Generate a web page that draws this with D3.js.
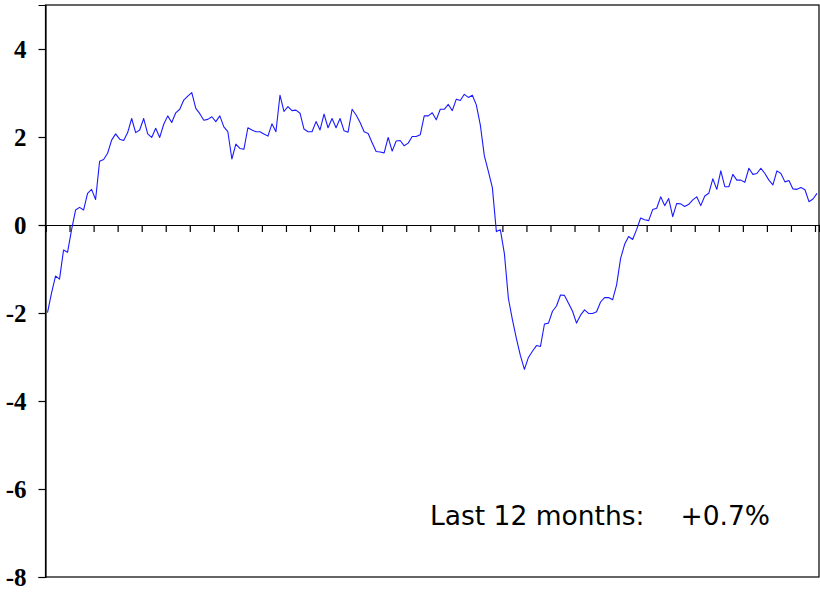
<!DOCTYPE html>
<html><head><meta charset="utf-8">
<script src="https://cdn.jsdelivr.net/npm/d3@7"></script>
<style>html,body{margin:0;padding:0;background:#fff;}svg{display:block;}</style>
</head><body>
<svg id="chart" width="820" height="592"></svg>
<script>
const values = [
-1.99,-1.55,-1.16,-1.23,-0.57,-0.62,-0.11,0.34,0.40,0.34,
0.72,0.81,0.58,1.45,1.49,1.63,1.93,2.07,1.95,1.92,
2.10,2.42,2.10,2.16,2.42,2.07,1.99,2.20,1.99,2.29,
2.48,2.33,2.55,2.63,2.84,2.93,3.01,2.65,2.53,2.38,
2.40,2.46,2.35,2.48,2.23,2.12,1.50,1.84,1.74,1.72,
2.21,2.16,2.12,2.12,2.07,2.02,2.30,2.12,2.95,2.58,
2.69,2.60,2.61,2.54,2.18,2.12,2.12,2.35,2.16,2.52,
2.21,2.42,2.21,2.42,2.14,2.11,2.63,2.50,2.33,2.12,
2.08,1.87,1.67,1.66,1.64,1.99,1.68,1.91,1.92,1.80,
1.86,2.01,2.01,2.05,2.48,2.48,2.55,2.39,2.63,2.63,
2.74,2.60,2.86,2.83,2.97,2.90,2.95,2.73,2.27,1.57,
1.22,0.85,-0.15,-0.11,-0.65,-1.67,-2.15,-2.58,-2.97,-3.28,
-3.01,-2.87,-2.74,-2.76,-2.25,-2.23,-1.96,-1.84,-1.59,-1.60,
-1.78,-1.96,-2.23,-2.05,-1.93,-2.01,-2.01,-1.97,-1.75,-1.65,
-1.65,-1.70,-1.36,-0.76,-0.44,-0.26,-0.33,-0.10,0.16,0.12,
0.10,0.35,0.38,0.64,0.44,0.60,0.19,0.49,0.48,0.42,
0.47,0.57,0.64,0.44,0.66,0.72,1.05,0.81,1.23,0.87,
0.87,1.15,1.02,1.02,0.97,1.29,1.15,1.17,1.29,1.17,
1.02,0.91,1.23,1.17,0.98,1.01,0.82,0.81,0.85,0.80,
0.53,0.59,0.72
];
const periods = values.map((_, i) => i);
const yTickValues = [4, 2, 0, -2, -4, -6, -8];
const tickEvery = 6;
const noteLabel = "Last 12 months:";
const noteValue = "+0.7%";

(function () {
const svg = d3.select("#chart");
const mLeft = 45.5, mRight = 819, mTop = 5, mBottom = 577;

const x = d3.scaleLinear().domain([-0.5, periods.length - 0.5]).range([mLeft, mRight]);
const y = d3.scaleLinear().domain([-8, 5]).range([mBottom, mTop]);

svg.append("rect").attr("x", mLeft).attr("y", mTop)
  .attr("width", mRight - mLeft).attr("height", mBottom - mTop)
  .attr("fill", "none").attr("stroke", "#000").attr("stroke-width", 1.2);

const yAxis = d3.axisLeft(y).tickValues(yTickValues).tickSize(7).tickPadding(12)
  .tickFormat(d => d < 0 ? "-" + Math.abs(d) : String(d));
const gy = svg.append("g").attr("transform", `translate(${mLeft},0)`).call(yAxis);
gy.select(".domain").attr("stroke", "#000").attr("stroke-width", 1.2);
gy.selectAll(".tick line").attr("stroke", "#000").attr("stroke-width", 1.2);
gy.selectAll(".tick text")
  .style("font-family", "'Liberation Serif', 'Times New Roman', serif")
  .style("font-weight", "bold")
  .style("font-size", "25px")
  .style("fill", "#000")
  .attr("dy", "0.35em");

const boundaries = d3.range(0, periods.length + 1, tickEvery).map(i => i - 0.5);
const xAxis = d3.axisBottom(x).tickValues(boundaries).tickSize(7).tickFormat("");
const gx = svg.append("g").attr("transform", `translate(0,${y(0)})`).call(xAxis);
gx.select(".domain").attr("stroke", "#000").attr("stroke-width", 1.2);
gx.selectAll(".tick line").attr("stroke", "#000").attr("stroke-width", 1.2);

const line = d3.line().x((d, i) => x(periods[i])).y(d => y(d));
svg.append("path").datum(values).attr("d", line)
  .attr("fill", "none").attr("stroke", "#1a1aff").attr("stroke-width", 1.1)
  .attr("stroke-linejoin", "round");

const noteStyle = sel => sel.style("font-family", "'DejaVu Sans', Verdana, sans-serif")
  .style("font-size", "26.5px").style("fill", "#000");
svg.append("text").attr("x", 430).attr("y", 525).call(noteStyle).text(noteLabel);
svg.append("text").attr("x", 770).attr("y", 525)
  .attr("text-anchor", "end").call(noteStyle).text(noteValue);
})();
</script>
</body></html>
